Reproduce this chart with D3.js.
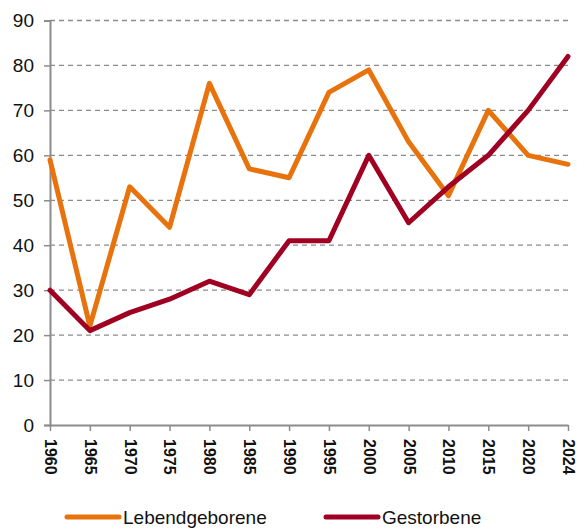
<!DOCTYPE html>
<html>
<head>
<meta charset="utf-8">
<script src="https://cdn.jsdelivr.net/npm/d3@7"></script>
<style>
  body { margin: 0; background: #fff; }
  text { font-family: "Liberation Sans", Arial, sans-serif; fill: #111; }
</style>
</head>
<body>
<svg id="chart" width="577" height="530"></svg>
<script>
const years = ["1960","1965","1970","1975","1980","1985","1990","1995","2000","2005","2010","2015","2020","2024"];
const lebendgeborene = [59, 22, 53, 44, 76, 57, 55, 74, 79, 63, 51, 70, 60, 58];
const gestorbene = [30, 21, 25, 28, 32, 29, 41, 41, 60, 45, 53, 60, 70, 82];
const yTicks = [0, 10, 20, 30, 40, 50, 60, 70, 80, 90];
const seriesNames = ["Lebendgeborene", "Gestorbene"];
const colors = ["#E8720C", "#A00022"];

const svg = d3.select("#chart");
const margin = {left: 50, right: 9, top: 20.5, bottom: 105};
const width = 577, height = 530;

const x = d3.scalePoint().domain(years).range([margin.left, width - margin.right]);
const y = d3.scaleLinear().domain([0, 90]).range([height - margin.bottom, margin.top]);

// gridlines
svg.append("g").selectAll("line")
  .data(yTicks.filter(d => d > 0))
  .enter().append("line")
    .attr("x1", margin.left).attr("x2", width - margin.right)
    .attr("y1", d => y(d)).attr("y2", d => y(d))
    .attr("stroke", "#8c8c8c").attr("stroke-width", 1.3)
    .attr("stroke-dasharray", "5,4");

// y axis
const yAxis = svg.append("g")
  .attr("transform", `translate(${margin.left},0)`)
  .call(d3.axisLeft(y).tickValues(yTicks).tickSize(6).tickPadding(10));
yAxis.select(".domain").attr("stroke", "#8c8c8c").attr("stroke-width", 2);
yAxis.selectAll(".tick line").attr("stroke", "#8c8c8c").attr("stroke-width", 1.5);
yAxis.selectAll("text").style("font-size", "19px").attr("fill", "#111");

// x axis
const xAxis = svg.append("g")
  .attr("transform", `translate(0,${y(0)})`)
  .call(d3.axisBottom(x).tickSize(6).tickSizeOuter(0));
xAxis.select(".domain").attr("stroke", "#8c8c8c").attr("stroke-width", 2);
xAxis.selectAll(".tick line").attr("stroke", "#8c8c8c").attr("stroke-width", 1.5);
xAxis.selectAll("text")
  .style("font-size", "16px").style("font-weight", "bold").attr("fill", "#111")
  .attr("text-anchor", "start")
  .attr("transform", "rotate(90)")
  .attr("x", 14).attr("y", 0).attr("dy", "0.35em");

// lines
const line = d3.line().x((d, i) => x(years[i])).y(d => y(d));
[lebendgeborene, gestorbene].forEach((s, k) => {
  svg.append("path")
    .datum(s)
    .attr("d", line)
    .attr("fill", "none")
    .attr("stroke", colors[k])
    .attr("stroke-width", 5)
    .attr("stroke-linejoin", "round")
    .attr("stroke-linecap", "round");
});

// legend
const legendX = [67, 326];
const lg = svg.append("g");
seriesNames.forEach((name, k) => {
  lg.append("line")
    .attr("x1", legendX[k]).attr("x2", legendX[k] + 52)
    .attr("y1", 517).attr("y2", 517)
    .attr("stroke", colors[k]).attr("stroke-width", 5)
    .attr("stroke-linecap", "round");
  lg.append("text")
    .attr("x", legendX[k] + 56).attr("y", 517).attr("dy", "0.35em")
    .style("font-size", "19px")
    .text(name);
});
</script>
</body>
</html>
